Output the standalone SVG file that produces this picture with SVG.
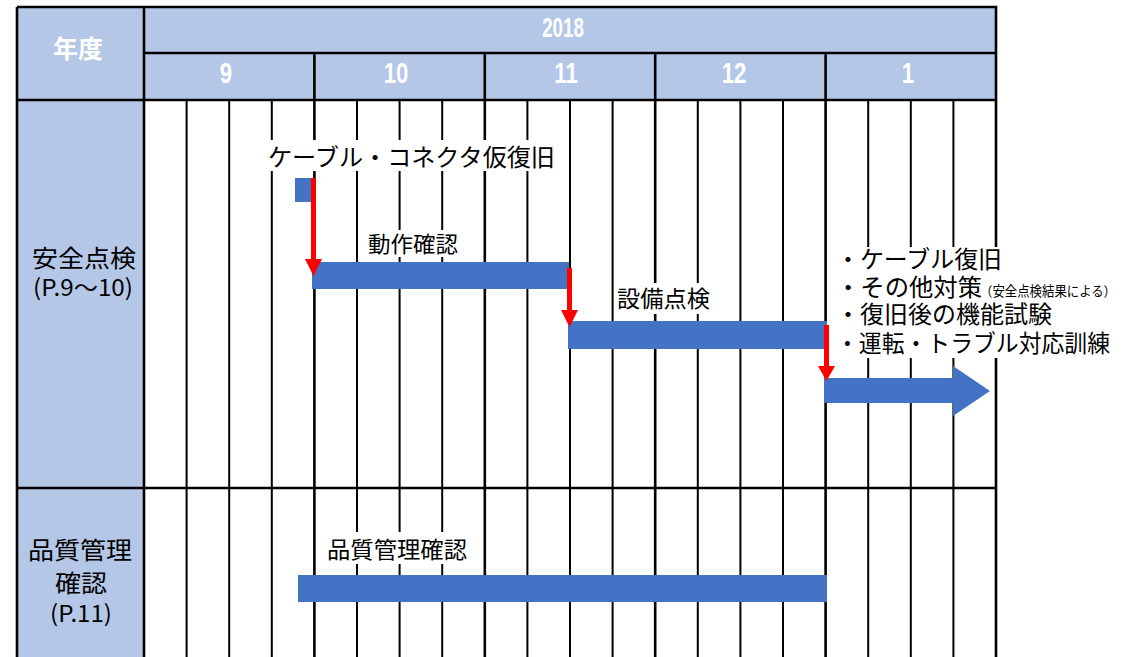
<svg xmlns="http://www.w3.org/2000/svg" width="1133" height="657" viewBox="0 0 1133 657">
<style>
.hdr{fill:#B4C7E7}
.g{stroke:#000;stroke-width:2;fill:none}
.gm{stroke:#000;stroke-width:2.6;fill:none}
.bar{fill:#4472C4}
.box{fill:#fff}
.ht{font-family:"Liberation Sans","Noto Sans CJK JP",sans-serif;font-weight:bold;fill:#fff}
.hj{font-family:"Noto Sans CJK JP",sans-serif;font-weight:bold;fill:#fff;font-size:25px}
.jt{font-family:"Noto Sans CJK JP",sans-serif;fill:#000}
.red{stroke:#FF0000;stroke-width:5;fill:none}
.rh{fill:#FF0000}
</style>
<rect x="0" y="0" width="1133" height="657" fill="#fff"/>
<g id="header">
<rect class="hdr" x="17" y="7" width="979" height="93"/>
<rect class="hdr" x="17" y="100" width="127" height="557"/>
<text class="hj" x="78" y="58" text-anchor="middle">年度</text>
<text class="ht" font-size="28" text-anchor="middle" transform="translate(563,37) scale(0.67,1)">2018</text>
<text class="ht" font-size="30" text-anchor="middle" transform="translate(226,83) scale(0.74,1)">9</text>
<text class="ht" font-size="30" text-anchor="middle" transform="translate(396,83) scale(0.74,1)">10</text>
<text class="ht" font-size="30" text-anchor="middle" transform="translate(566,83) scale(0.74,1)">11</text>
<text class="ht" font-size="30" text-anchor="middle" transform="translate(734,83) scale(0.74,1)">12</text>
<text class="ht" font-size="30" text-anchor="middle" transform="translate(908,83) scale(0.74,1)">1</text>
</g>
<g id="grid">
<path class="g" d="M186.6 100V657M229.2 100V657M271.8 100V657M357 100V657M399.6 100V657M442.2 100V657M527.4 100V657M570 100V657M612.6 100V657M697.8 100V657M740.4 100V657M783 100V657M868.2 100V657M910.8 100V657M953.4 100V657"/>
<path class="gm" d="M314.4 53V657M484.8 53V657M655.2 53V657M825.6 53V657"/>
<path class="gm" d="M17 7H996V657M17 7V657M144 7V657M144 53H996M17 100H996M17 488H996"/>
</g>
<g id="row-safety">
<text class="jt" font-size="24" x="84" y="267" text-anchor="middle" textLength="104" lengthAdjust="spacingAndGlyphs">安全点検</text>
<text class="jt" font-size="23" x="83" y="296" text-anchor="middle" textLength="100" lengthAdjust="spacingAndGlyphs">(P.9～10)</text>
</g>
<g id="row-quality">
<text class="jt" font-size="24" x="80" y="559" text-anchor="middle" textLength="104" lengthAdjust="spacingAndGlyphs">品質管理</text>
<text class="jt" font-size="24" x="81" y="592" text-anchor="middle" textLength="52" lengthAdjust="spacingAndGlyphs">確認</text>
<text class="jt" font-size="23" x="81" y="622" text-anchor="middle" textLength="62" lengthAdjust="spacingAndGlyphs">(P.11)</text>
</g>
<g id="task-cable">
<rect class="box" x="262" y="140" width="300" height="31"/>
<text class="jt" font-size="24" x="268" y="166" textLength="287" lengthAdjust="spacingAndGlyphs">ケーブル・コネクタ仮復旧</text>
<rect class="bar" x="295" y="178" width="18" height="24"/>
</g>
<g id="task-operation">
<rect class="box" x="360" y="230" width="108" height="27"/>
<text class="jt" font-size="22" x="368" y="252" textLength="90" lengthAdjust="spacingAndGlyphs">動作確認</text>
<rect class="bar" x="312" y="262" width="257" height="27"/>
</g>
<g id="task-equipment">
<rect class="box" x="614" y="283" width="99" height="31"/>
<text class="jt" font-size="23" x="617" y="307" textLength="93" lengthAdjust="spacingAndGlyphs">設備点検</text>
<rect class="bar" x="568" y="321" width="259" height="28"/>
</g>
<g id="task-recovery">
<rect class="box" x="829" y="247" width="293" height="111"/>
<text class="jt" font-size="23.5"><tspan x="836" y="268" textLength="166" lengthAdjust="spacingAndGlyphs">・ケーブル復旧</tspan><tspan x="836" y="296" textLength="146" lengthAdjust="spacingAndGlyphs">・その他対策</tspan><tspan font-size="13.5" x="980" y="296" textLength="136" lengthAdjust="spacingAndGlyphs">（安全点検結果による）</tspan><tspan x="836" y="323" textLength="216" lengthAdjust="spacingAndGlyphs">・復旧後の機能試験</tspan><tspan x="836" y="352" textLength="274" lengthAdjust="spacingAndGlyphs">・運転・トラブル対応訓練</tspan></text>
<polygon class="bar" points="824,378 953,378 953,366 990,391 953,416 953,403 824,403"/>
</g>
<g id="task-quality">
<rect class="box" x="318" y="532" width="154" height="32"/>
<text class="jt" font-size="23" x="327" y="558" textLength="140" lengthAdjust="spacingAndGlyphs">品質管理確認</text>
<rect class="bar" x="298" y="575" width="529" height="27"/>
</g>
<g id="connectors">
<path class="red" d="M313.5 178V261"/>
<polygon class="rh" points="305,259 322,259 313.5,276"/>
<path class="red" d="M569.5 268V312"/>
<polygon class="rh" points="561,310 578,310 569.5,327"/>
<path class="red" d="M826.5 325V368"/>
<polygon class="rh" points="818,366 835,366 826.5,381"/>
</g>
</svg>
